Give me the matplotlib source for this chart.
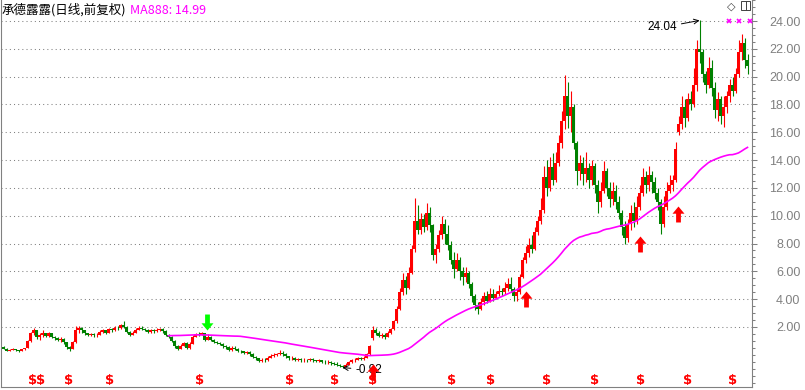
"""
承德露露 daily K-line with MA888, forward-adjusted.
Price path read off the reference screenshot, one candle per 3 px.
"""

import numpy as np
import matplotlib
matplotlib.use('Agg')
import matplotlib.pyplot as plt
import matplotlib.transforms as mtransforms
from matplotlib.path import Path
from matplotlib.patches import Rectangle
from matplotlib.lines import Line2D
from matplotlib.ticker import MultipleLocator, FixedLocator

# ── Data ───────────────────────────────────────────────────────────────────
opens = [
    0.55, 0.45, 0.30, 0.38, 0.42, 0.35, 0.30, 0.40, 0.50, 1.00,
    1.55, 1.75, 1.25, 1.40, 1.55, 1.35, 1.55, 1.30, 1.20, 1.10,
    1.15, 0.90, 0.55, 0.45, 0.90, 1.80, 1.95, 1.75, 1.55, 1.45,
    1.50, 1.40, 1.45, 1.65, 1.75, 1.60, 1.85, 1.75, 1.95, 1.90,
    2.15, 2.00, 1.65, 1.45, 1.60, 1.80, 1.95, 1.85, 1.80, 1.65,
    1.75, 1.70, 1.80, 1.85, 1.70, 1.45, 1.30, 1.00, 0.60, 0.45,
    0.65, 0.85, 0.50, 0.80, 1.30, 1.50, 1.45, 1.55, 1.10, 1.30,
    1.10, 0.95, 0.85, 0.80, 0.60, 0.55, 0.35, 0.50, 0.45, 0.30,
    0.25, 0.15, 0.20, 0.05, -0.15, -0.25, -0.45, -0.35, -0.40, -0.20,
    -0.05, 0.00, 0.05, 0.15, 0.05, -0.10, -0.25, -0.20, -0.35, -0.30,
    -0.40, -0.35, -0.40, -0.30, -0.40, -0.45, -0.40, -0.50, -0.55, -0.50,
    -0.60, -0.65, -0.70, -0.80, -0.85, -0.70, -0.55, -0.40, -0.35, -0.25,
    -0.30, -0.20, 0.05, 1.20, 1.80, 1.60, 1.35, 1.45, 1.30, 1.55,
    1.85, 2.40, 3.30, 4.50, 5.40, 4.80, 5.90, 7.60, 9.60, 9.00,
    9.80, 9.20, 10.20, 9.30, 7.20, 7.60, 8.60, 9.40, 8.70, 7.90,
    6.80, 6.20, 6.80, 6.00, 5.60, 5.90, 5.10, 4.20, 3.60, 3.30,
    3.80, 4.20, 3.90, 4.40, 4.10, 4.40, 4.60, 4.50, 4.80, 5.10,
    4.70, 4.20, 4.50, 5.60, 6.80, 7.30, 7.90, 7.60, 8.80, 9.60,
    10.40, 12.80, 12.00, 13.50, 12.60, 13.80, 15.20, 16.80, 18.60, 17.20,
    17.80, 15.20, 13.20, 13.80, 13.00, 13.40, 12.60, 13.60, 12.20, 11.00,
    11.80, 13.20, 12.00, 11.20, 11.80, 11.00, 10.20, 9.20, 8.40, 9.40,
    10.20, 9.60, 10.60, 11.60, 12.80, 12.20, 12.90, 12.40, 11.60, 11.00,
    9.40, 10.60, 11.80, 12.20, 12.60, 16.00, 16.60, 17.80, 17.00, 18.40,
    18.00, 19.40, 22.00, 21.80, 20.20, 19.40, 20.60, 19.20, 17.60, 18.40,
    17.20, 17.80, 18.60, 19.40, 19.00, 20.20, 21.80, 22.40, 21.20,
]
closes = [
    0.45, 0.30, 0.38, 0.42, 0.35, 0.30, 0.40, 0.48, 1.00, 1.55,
    1.75, 1.25, 1.40, 1.55, 1.35, 1.55, 1.30, 1.20, 1.10, 1.15,
    0.90, 0.55, 0.45, 0.90, 1.80, 1.95, 1.75, 1.55, 1.45, 1.50,
    1.40, 1.45, 1.65, 1.75, 1.60, 1.85, 1.75, 1.95, 1.90, 2.15,
    2.00, 1.65, 1.45, 1.60, 1.80, 1.95, 1.85, 1.80, 1.65, 1.75,
    1.70, 1.80, 1.85, 1.70, 1.45, 1.30, 1.00, 0.60, 0.45, 0.65,
    0.85, 0.50, 0.80, 1.30, 1.50, 1.45, 1.55, 1.10, 1.30, 1.10,
    0.95, 0.85, 0.80, 0.60, 0.55, 0.35, 0.50, 0.45, 0.30, 0.25,
    0.15, 0.20, 0.05, -0.15, -0.25, -0.45, -0.35, -0.40, -0.20, -0.05,
    0.00, 0.05, 0.15, 0.05, -0.10, -0.25, -0.20, -0.35, -0.30, -0.40,
    -0.35, -0.40, -0.30, -0.40, -0.45, -0.40, -0.50, -0.55, -0.50, -0.60,
    -0.65, -0.70, -0.80, -0.85, -0.70, -0.55, -0.40, -0.35, -0.25, -0.30,
    -0.20, 0.05, 0.60, 1.80, 1.60, 1.35, 1.45, 1.30, 1.55, 1.85,
    2.40, 3.30, 4.50, 5.40, 4.80, 5.90, 7.60, 9.60, 9.00, 9.80,
    9.20, 10.20, 9.30, 7.20, 7.60, 8.60, 9.40, 8.70, 7.90, 6.80,
    6.20, 6.80, 6.00, 5.60, 5.90, 5.10, 4.20, 3.60, 3.30, 3.80,
    4.20, 3.90, 4.40, 4.10, 4.40, 4.60, 4.50, 4.80, 5.10, 4.70,
    4.20, 4.50, 5.60, 6.80, 7.30, 7.90, 7.60, 8.80, 9.60, 10.40,
    12.80, 12.00, 13.50, 12.60, 13.80, 15.20, 16.80, 18.60, 17.20, 17.80,
    15.20, 13.20, 13.80, 13.00, 13.40, 12.60, 13.60, 12.20, 11.00, 11.80,
    13.20, 12.00, 11.20, 11.80, 11.00, 10.20, 9.20, 8.40, 9.40, 10.20,
    9.60, 10.60, 11.60, 12.80, 12.20, 12.90, 12.40, 11.60, 11.00, 9.40,
    10.60, 11.80, 12.20, 12.60, 14.80, 16.60, 17.80, 17.00, 18.40, 18.00,
    19.40, 22.00, 21.80, 20.20, 19.40, 20.60, 19.20, 17.60, 18.40, 17.20,
    17.80, 18.60, 19.40, 19.00, 20.20, 21.80, 22.40, 21.20, 20.80,
]
highs = [
    0.62, 0.50, 0.42, 0.48, 0.45, 0.38, 0.44, 0.52, 1.05, 1.65,
    1.90, 1.80, 1.60, 1.75, 1.60, 1.65, 1.60, 1.35, 1.30, 1.25,
    1.20, 0.95, 0.60, 1.00, 2.05, 2.10, 2.00, 1.80, 1.60, 1.60,
    1.55, 1.55, 1.75, 1.85, 1.80, 1.95, 1.95, 2.05, 2.05, 2.25,
    2.40, 2.05, 1.70, 1.70, 1.90, 2.05, 2.05, 1.95, 1.85, 1.85,
    1.85, 1.90, 1.95, 1.95, 1.75, 1.50, 1.35, 1.05, 0.70, 0.75,
    0.95, 0.90, 0.90, 1.40, 1.60, 1.65, 1.65, 1.60, 1.50, 1.35,
    1.15, 1.00, 0.95, 0.85, 0.70, 0.60, 0.60, 0.60, 0.50, 0.35,
    0.30, 0.30, 0.25, 0.10, -0.05, -0.20, -0.25, -0.25, -0.10, 0.05,
    0.10, 0.15, 0.35, 0.25, 0.10, -0.05, -0.10, -0.15, -0.20, -0.25,
    -0.25, -0.30, -0.20, -0.25, -0.35, -0.30, -0.35, -0.40, -0.40, -0.45,
    -0.50, -0.55, -0.65, -0.70, -0.60, -0.45, -0.30, -0.20, -0.15, -0.15,
    -0.10, 0.15, 0.70, 2.10, 1.95, 1.70, 1.60, 1.55, 1.70, 1.95,
    2.50, 3.50, 4.80, 5.90, 5.70, 6.30, 7.90, 11.30, 10.80, 10.20,
    10.10, 10.90, 10.60, 9.40, 8.00, 9.00, 10.00, 9.80, 9.30, 8.20,
    7.40, 7.30, 7.00, 6.30, 6.30, 6.00, 5.20, 4.40, 3.80, 4.10,
    4.50, 4.60, 4.80, 4.70, 4.60, 5.00, 4.80, 5.20, 5.50, 5.60,
    4.90, 4.80, 5.80, 7.00, 7.80, 8.40, 8.60, 9.20, 10.00, 11.30,
    13.60, 14.00, 14.20, 14.50, 14.60, 15.80, 17.50, 20.10, 19.60, 19.00,
    18.00, 15.40, 14.40, 14.20, 14.60, 13.80, 14.00, 13.80, 12.60, 12.40,
    13.90, 13.40, 12.40, 12.40, 12.20, 11.40, 10.40, 9.60, 9.80, 10.80,
    11.00, 11.40, 12.20, 13.40, 13.20, 13.60, 13.20, 12.80, 12.00, 11.20,
    11.40, 12.40, 12.90, 12.90, 15.30, 17.20, 18.60, 18.40, 18.80, 19.00,
    20.60, 22.60, 24.04, 22.00, 20.40, 21.40, 21.20, 19.60, 18.90, 18.60,
    18.60, 19.00, 19.80, 20.00, 20.60, 22.60, 23.10, 22.80, 21.60,
]
lows = [
    0.40, 0.25, 0.25, 0.33, 0.30, 0.22, 0.27, 0.36, 0.48, 0.95,
    1.45, 1.15, 1.10, 1.30, 1.25, 1.30, 1.20, 1.05, 1.00, 0.95,
    0.80, 0.45, 0.30, 0.40, 0.85, 1.60, 1.60, 1.45, 1.35, 1.38,
    1.30, 1.30, 1.40, 1.55, 1.50, 1.55, 1.65, 1.70, 1.80, 1.85,
    1.90, 1.55, 1.35, 1.40, 1.55, 1.75, 1.75, 1.70, 1.55, 1.60,
    1.60, 1.65, 1.70, 1.60, 1.35, 1.20, 0.90, 0.50, 0.35, 0.40,
    0.60, 0.40, 0.45, 0.75, 1.25, 1.35, 1.40, 1.00, 1.05, 1.00,
    0.85, 0.75, 0.70, 0.50, 0.45, 0.25, 0.30, 0.35, 0.20, 0.15,
    0.05, 0.05, -0.05, -0.25, -0.35, -0.55, -0.55, -0.50, -0.45, -0.25,
    -0.15, -0.10, 0.00, -0.05, -0.20, -0.35, -0.35, -0.45, -0.45, -0.50,
    -0.50, -0.50, -0.45, -0.50, -0.55, -0.55, -0.60, -0.65, -0.65, -0.70,
    -0.75, -0.80, -0.88, -0.92, -0.90, -0.75, -0.60, -0.50, -0.40, -0.40,
    -0.35, -0.25, 0.00, 1.10, 1.45, 1.25, 1.20, 1.15, 1.25, 1.50,
    1.80, 2.30, 3.20, 4.30, 4.40, 4.70, 5.80, 7.40, 8.70, 8.70,
    8.80, 9.00, 8.80, 6.80, 6.60, 7.40, 8.30, 8.00, 7.50, 6.50,
    5.50, 6.00, 5.40, 5.00, 5.20, 4.80, 3.80, 3.20, 2.90, 3.20,
    3.60, 3.70, 3.80, 3.90, 4.00, 4.20, 4.20, 4.40, 4.60, 4.50,
    3.90, 3.90, 4.40, 5.50, 6.60, 7.00, 7.30, 7.50, 8.60, 9.40,
    10.20, 11.40, 11.80, 12.20, 12.40, 13.60, 14.90, 16.20, 16.30, 16.00,
    14.80, 12.20, 12.60, 12.20, 12.40, 12.00, 12.20, 11.60, 10.20, 10.60,
    11.60, 11.40, 10.60, 10.80, 10.50, 9.80, 8.60, 8.00, 8.10, 9.00,
    9.20, 9.40, 10.40, 11.40, 11.60, 11.80, 11.60, 11.20, 10.40, 8.70,
    9.20, 10.40, 11.60, 11.80, 12.40, 15.80, 16.20, 16.40, 16.80, 17.60,
    17.80, 19.00, 21.00, 19.60, 18.80, 19.20, 18.60, 17.00, 16.80, 16.60,
    16.40, 17.40, 18.20, 18.60, 18.80, 20.00, 21.20, 20.60, 20.20,
]

# 888 trading days ~ 56 of the condensed candles
MA_WINDOW = 56
MA_LABEL = 'MA888: 14.99'
TITLE = '承德露露(日线,前复权)'

# signal arrows (candle index, price level of the arrow)
buy_idx = [123, 174.3, 212.3, 224.7]
buy_lvl = [-1.2, 4.0, 7.95, 10.15]
sell_idx = [67.7]
sell_lvl = [2.35]

# dividend / rights markers along the bottom (candle index)
div_idx = [9.8, 12.5, 21.7, 35.3, 65.3, 95.3, 110.3, 123, 149.3,
           162.3, 181, 197, 212.3, 228, 243]

# small event marks near the top right
evt_idx = [241.7, 245.3, 248.7]
evt_lvl = [24.0, 24.0, 24.0]

hi_label = '24.04'
lo_label = '-0.92'

# ── Figure ─────────────────────────────────────────────────────────────────
W, H = 805, 390
RED, GREEN, MAGENTA, GREY = '#ff0000', '#008000', '#ff00ff', '#808080'

o = np.array(opens)
c = np.array(closes)
h = np.array(highs)
l = np.array(lows)
idx = np.arange(len(c))

fig = plt.figure(figsize=(W / 100, H / 100), dpi=100)
ax = fig.add_axes([0.5 / W, 3 / H, 751 / W, 387 / H])

# pixel y=0 -> 25.51, pixel y=387 -> -2.314 (24 at y=21, 2 at y=327)
ax.set_xlim(-1, (751 - 3) / 3)
ax.set_ylim(-2.314, 25.51)

colors = np.where(c > o, RED, np.where(c < o, GREEN, 'black'))
ax.vlines(idx, l, h, colors=colors, lw=0.8, zorder=3)
body = np.abs(c - o)
body = np.maximum(body, 0.04)
ax.bar(idx, body, bottom=np.minimum(o, c), width=0.67, color=colors,
       linewidth=0, zorder=3)

ma = np.convolve(c, np.ones(MA_WINDOW) / MA_WINDOW, mode='valid')
ax.plot(idx[MA_WINDOW - 1:], ma, color=MAGENTA, lw=1.2, zorder=4)

# arrows
arrow_up = Path([(0, 1), (0.75, 0.1), (0.3, 0.1), (0.3, -1), (-0.3, -1),
                 (-0.3, 0.1), (-0.75, 0.1), (0, 1)], closed=True)
arrow_dn = Path([(x, -y) for x, y in arrow_up.vertices], closed=True)
ax.plot(buy_idx, buy_lvl, ls='none', marker=arrow_up, ms=11.5, color=RED,
        mec=RED, mew=0, zorder=6)
ax.plot(sell_idx, sell_lvl, ls='none', marker=arrow_dn, ms=11.5,
        color='#00ff00', mec='#00ff00', mew=0, zorder=6)

# dividend markers
btrans = mtransforms.blended_transform_factory(ax.transData, ax.transAxes)
for xi in div_idx:
    ax.text(xi, 0.016, '$', transform=btrans, color=RED, fontsize=9.5,
            family=['Liberation Sans Narrow', 'DejaVu Sans'],
            fontweight='bold', ha='center', va='center', zorder=5)

ax.plot(evt_idx, evt_lvl, ls='none', marker='x', ms=3.5, mew=1.2,
        color=MAGENTA, zorder=5)

# high / low annotations
i_hi = int(np.argmax(h))
i_lo = int(np.argmin(l))
ax.annotate(hi_label, xy=(i_hi, h[i_hi]), xytext=(-16, -5),
            textcoords='offset points', ha='right', va='center',
            fontsize=8.5, family='Liberation Sans', color='black',
            arrowprops=dict(arrowstyle='->', color='black', lw=0.7,
                            shrinkA=1, shrinkB=0), zorder=7)
ax.annotate(lo_label, xy=(i_lo, l[i_lo]), xytext=(9, -1.5),
            textcoords='offset points', ha='left', va='center',
            fontsize=8.5, family='Liberation Sans', color='black',
            arrowprops=dict(arrowstyle='->', color='black', lw=0.7,
                            shrinkA=1, shrinkB=0), zorder=5)

# axes styling
for side in ['left', 'bottom', 'right']:
    ax.spines[side].set_color(GREY)
    ax.spines[side].set_linewidth(0.8)
ax.spines['top'].set_visible(False)
ax.set_xticks([])
ax.yaxis.tick_right()
ax.yaxis.set_major_locator(FixedLocator(np.arange(2, 25, 2)))
ax.yaxis.set_minor_locator(MultipleLocator(0.5))
ax.yaxis.set_major_formatter(matplotlib.ticker.FormatStrFormatter('%.2f'))
ax.tick_params(axis='y', which='major', length=3.6, width=0.75, color=GREY,
               labelcolor=GREY, labelsize=9, pad=31.7)
ax.tick_params(axis='y', which='minor', length=2.2, width=0.75, color=GREY)
for t in ax.yaxis.get_major_ticks():
    t.label2.set_horizontalalignment('right')
    t.label2.set_family('Liberation Sans')
ax.yaxis.grid(True, which='major', linestyle=(0, (1, 3)), color=GREY, lw=0.75)
ax.set_axisbelow(True)

# title row
fig.text(2 / W, 1 - 10 / H, TITLE, family=['Noto Sans CJK SC', 'DejaVu Sans'],
         fontsize=9, color='black', va='center', ha='left')
fig.text(130 / W, 1 - 10 / H, MA_LABEL, family=['Noto Sans CJK SC', 'DejaVu Sans'],
         fontsize=9, color=MAGENTA, va='center', ha='left')

# little window icons top right
fig.text(731 / W, 1 - 7 / H, '◇', fontsize=8, color='#404040',
         ha='center', va='center')
fig.patches.append(Rectangle((741 / W, 1 - 10 / H), 9 / W, 9 / H,
                             transform=fig.transFigure, fill=False,
                             edgecolor='#404040', lw=0.7))
fig.lines.append(Line2D([746 / W, 746 / W], [1 - 10 / H, 1 - 1 / H],
                        transform=fig.transFigure, color='#404040', lw=0.7))

fig.savefig('out.png', dpi=100)
plt.close(fig)
